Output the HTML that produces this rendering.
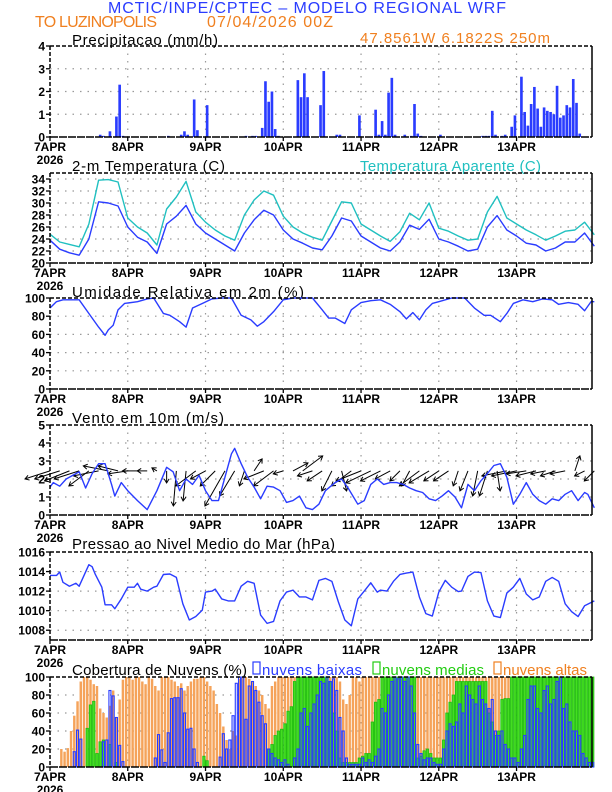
<!DOCTYPE html>
<html><head><meta charset="utf-8">
<style>
html,body{margin:0;padding:0;background:#fff;}
svg{display:block;font-family:"Liberation Sans",sans-serif;}
.tl{font-size:12px;fill:#000;font-weight:bold;}
.pt{font-size:15px;fill:#000;}
</style></head>
<body>
<svg id="chart" width="612" height="792" viewBox="0 0 612 792" xmlns="http://www.w3.org/2000/svg">
<rect x="0" y="0" width="612" height="792" fill="#fff"/>
<text x="108" y="13" font-size="16" fill="#2a3cff" textLength="398">MCTIC/INPE/CPTEC – MODELO REGIONAL WRF</text>
<text x="35" y="27" font-size="16" fill="#f08020" textLength="122">TO LUZINOPOLIS</text>
<text x="207" y="27" font-size="16" fill="#f08020" textLength="126">07/04/2026 00Z</text>
<text x="72" y="45" class="pt" textLength="146">Precipitacao (mm/h)</text>
<text x="360" y="43" font-size="15" fill="#f08020" textLength="190">47.8561W 6.1822S 250m</text>
<text x="72" y="171" class="pt" textLength="153">2-m Temperatura (C)</text>
<text x="360" y="171" font-size="15" fill="#20c0c0" textLength="181">Temperatura Aparente (C)</text>
<text x="72" y="297" class="pt" textLength="232">Umidade Relativa em 2m (%)</text>
<text x="72" y="423" class="pt" textLength="152">Vento em 10m (m/s)</text>
<text x="72" y="549" class="pt" textLength="263">Pressao ao Nivel Medio do Mar (hPa)</text>
<text x="72" y="675" class="pt" textLength="175">Cobertura de Nuvens (%)</text>
<rect x="253" y="662" width="7" height="12" fill="none" stroke="#2a3cff" stroke-width="1.2"/>
<text x="262" y="675" font-size="15" fill="#2a3cff" textLength="100">nuvens baixas</text>
<rect x="373" y="662" width="7" height="12" fill="none" stroke="#22cc11" stroke-width="1.2"/>
<text x="382" y="675" font-size="15" fill="#22cc11" textLength="102">nuvens medias</text>
<rect x="494" y="662" width="7" height="12" fill="none" stroke="#f08020" stroke-width="1.2"/>
<text x="503" y="675" font-size="15" fill="#f08020" textLength="84">nuvens altas</text>
</svg>
<script>
// ---------- data ----------
const dayLabels = ["7APR","8APR","9APR","10APR","11APR","12APR","13APR"];
const yearLabel = "2026";
const precipTicks = [0,1,2,3,4];
const tempTicks = [20,22,24,26,28,30,32,34];
const rhTicks = [0,20,40,60,80,100];
const windTicks = [0,1,2,3,4,5];
const presTicks = [1008,1010,1012,1014,1016];
const cloudTicks = [0,20,40,60,80,100];

const precipHours = [15,16,18,20,21,22,36,40,41,42,44,45,48,60,62,63,65,66,67,68,69,70,76,77,78,79,83,84,88,89,95,100,101,102,103,104,105,106,109,111,112,113,114,120,133,134,135,136,137,139,140,142,143,145,146,147,148,149,150,151,152,153,154,155,156,157,158,159,160,161,162,163];
const precipValues = [0.1,0.05,0.25,0.9,2.3,0.05,0.05,0.1,0.25,0.1,1.65,0.3,1.4,0.05,0.05,0.05,0.4,2.45,1.55,2.0,0.35,0.05,2.5,1.75,2.8,1.75,1.4,2.9,0.1,0.1,0.95,1.2,0.1,0.7,0.1,1.95,2.6,0.1,0.1,0.05,1.45,0.15,0.05,0.1,0.05,0.05,0.05,1.15,0.1,0.05,0.1,0.45,0.95,2.65,1.1,0.5,1.45,2.2,1.25,0.45,1.3,1.15,1.1,1.0,2.25,0.85,0.95,1.4,1.3,2.55,1.5,0.15];

const tempStep = 3;
const tempValues = [23.8,22.3,21.7,21.3,24.0,30.2,30.0,29.5,26.0,24.3,23.5,21.6,26.5,27.8,29.6,26.5,25.0,24.0,23.0,22.0,25.0,27.2,28.8,28.0,25.5,24.0,23.3,22.5,22.2,24.5,27.5,27.0,24.5,23.5,22.5,22.0,23.5,26.3,25.6,27.3,24.0,23.5,22.8,22.0,22.3,26.0,27.9,25.5,24.5,23.3,23.0,22.0,22.5,23.5,23.5,25.0,22.8];
const apparentValues = [24.8,23.5,23.1,22.7,26.5,33.8,33.9,33.5,27.5,26.0,25.0,23.0,29.0,31.0,33.6,28.5,26.8,25.5,24.5,23.8,28.0,30.5,32.0,31.3,27.8,26.0,25.0,24.3,23.8,27.0,30.2,30.0,26.5,25.5,24.5,23.6,25.2,28.3,27.2,30.0,25.8,25.3,24.5,23.8,24.0,28.5,31.1,27.5,26.5,25.5,24.7,23.8,24.5,25.3,25.5,26.8,24.7];

const rhHours = [0,2,4,9,12,15,17,18,19.5,21,23,27,30,32,35,37,40,42,44,47,50,53,56,59,62,64,66,69,72,75,81,84,86,88,91,93,96,99,102,105,108,110,112,114,116,118,120,124,128,131,134,136,139,141,143,146,149,152,155,157,160,163,165,167,168];
const rhValues = [89,96,98,98,83,68,59,65,70,87,94,96,99,100,83,81,74,68,89,94,99,100,100,81,76,69,74,85,98,100,100,87,78,78,72,87,95,97,98,93,85,77,84,76,87,94,96,100,100,89,81,81,74,83,94,98,96,99,98,93,95,93,86,96,96];

const windHours = [0,1,3,5,7,9,11,13,15,17,19,20,22,24,27,30,33,36,38,40,42,44,46,48,50,52,54,56,57,59,61,63,65,67,69,71,73,75,77,79,81,83,85,88,90,92,95,97,99,101,103,105,107,109,111,113,115,117,119,121,123,125,127,129,131,133,135,137,139,141,143,145,147,149,151,153,155,157,159,161,163,165,166,168];
const windSpeed = [1.55,1.8,1.6,2.0,2.2,2.4,1.5,2.3,2.85,2.85,1.7,1.05,1.8,1.35,0.8,0.3,1.35,2.65,2.4,1.35,2.0,1.7,2.2,1.35,0.8,0.8,2.1,3.4,3.7,2.85,2.1,1.55,0.9,1.6,1.55,1.35,0.7,0.8,1.05,0.4,0.3,0.6,1.35,1.8,2.0,1.5,0.6,0.8,1.7,2.0,1.7,1.8,1.8,1.7,1.5,1.35,1.25,0.9,0.8,1.05,1.35,1.0,0.4,1.7,1.35,1.9,2.3,2.75,2.85,2.1,0.6,1.15,1.8,1.15,0.8,0.6,0.9,0.8,1.15,1.35,0.8,1.25,1.15,0.4];
const vecStep = 3;
const windU = [-2.5,-2.5,-2.5,-2.5,-2,-2.5,-2.5,-2,-2,-1.5,-1,-0.5,0,-0.3,-0.3,-2,-1.5,-1.5,-2,-1.5,-0.5,0.8,-2,-2,-1,1.5,2,-1.5,-1.5,-1,0.5,-2,-2.5,-2.5,-2,-1.5,-1,-0.8,-2,-2,-1.5,-1.5,-0.5,-0.8,-0.5,-0.8,0.3,-2.5,-2.5,-2,-2,-1.5,-1.5,-1.5,0.5,-1,-1];
const windV = [-0.8,-0.8,-1,-0.8,-1.5,-0.5,0.5,0.5,-0.3,0,0,0.3,-1.2,-3.5,-3,-1.5,-0.8,-1.5,-3.5,-2.5,-1.5,1.2,-0.8,-1.5,-0.3,0.8,1.5,-0.5,-1,-2,-2,-1.5,-1,-1.2,-1,-0.8,-1,-1.5,-1.5,-1.2,-1,-1,-1.5,-2,-2.5,-2.5,-2,-0.5,-0.5,-0.3,-0.5,-0.3,-0.5,-0.3,1.5,-0.5,-1];

const presHours = [0,2,3,4,6,8,9,12,13,14,16,17,19,20,22,24,26,27,28,30,32,33,35,37,39,41,43,45,47,48,50,51,53,55,57,59,61,63,65,67,69,71,73,75,77,79,81,83,85,87,89,91,93,95,97,99,101,102,104,106,108,110,112,114,116,118,120,122,124,126,127,129,131,133,135,137,139,141,143,145,147,149,151,153,155,157,159,161,163,165,168];
const presValues = [1013.6,1013.6,1013.95,1012.9,1012.5,1012.8,1012.5,1014.7,1014.5,1013.7,1012.4,1010.6,1010.6,1010.2,1011.2,1012.4,1012.4,1012.8,1012.2,1012.0,1012.4,1012.5,1013.7,1013.75,1013.4,1010.7,1009.05,1009.4,1010.05,1011.9,1012.0,1012.2,1011.2,1011.0,1011.0,1012.5,1013.0,1012.8,1009.55,1008.7,1008.9,1011.0,1011.9,1012.1,1011.4,1011.4,1011.1,1013.1,1013.3,1013.0,1010.9,1009.05,1008.45,1011.2,1012.0,1012.85,1011.9,1012.1,1012.0,1013.0,1013.7,1013.85,1013.95,1011.4,1009.7,1009.45,1011.9,1013.1,1012.4,1011.95,1012.0,1013.5,1013.95,1013.9,1011.0,1009.45,1009.3,1011.8,1012.4,1013.3,1011.7,1011.1,1011.4,1013.0,1013.4,1013.0,1010.7,1009.9,1009.4,1010.5,1011.0];

const cloudHigh = [0,0,0,20,17,21,40,57,73,95,
100,100,97,92,90,65,60,55,68,85,
55,75,97,100,100,97,100,100,95,92,
100,98,90,85,100,100,100,97,95,90,
93,85,90,95,98,98,100,100,95,90,
85,70,60,45,30,20,40,35,98,100,
100,98,95,90,85,80,70,65,90,95,
100,100,100,100,100,100,100,100,100,100,
100,100,100,100,100,100,100,100,100,95,
75,70,80,100,100,95,100,100,100,100,
100,100,100,100,100,100,100,100,100,100,
100,100,100,100,100,100,100,100,100,100,
100,100,100,100,100,100,100,100,100,100,
100,100,100,100,100,100,100,100,100,100,
100,100,100,100,100,100,100,100,100,100,
100,100,100,100,100,100,100,100,0,0,
0,0,0,0,0,0,0,0];
const cloudMedium = [0,0,0,0,0,0,0,0,0,0,
0,43,69,73,15,28,30,0,25,0,
5,0,0,0,0,0,0,0,0,0,
0,0,0,0,0,0,0,0,0,0,
0,0,0,0,0,0,0,12,7,0,
0,0,0,0,0,0,0,0,0,0,
0,0,0,0,0,0,0,20,25,35,
40,42,48,62,67,95,100,100,100,100,
100,100,100,100,100,100,95,60,40,10,
5,5,5,5,5,10,12,15,15,50,
72,75,100,100,100,100,100,100,100,100,
100,100,100,10,12,18,20,15,10,10,
10,30,60,72,80,95,95,95,95,95,
95,95,95,95,95,60,50,35,40,75,
76,76,100,100,100,100,100,100,100,100,
100,100,100,100,100,100,100,100,100,100,
100,100,100,100,100,100,100,100];
const cloudLow = [0,0,0,0,0,0,0,17,41,31,
0,0,0,0,0,0,28,30,85,79,
55,24,6,0,0,0,0,0,0,0,
0,0,10,36,19,5,38,76,77,77,
87,60,42,43,20,5,0,0,0,0,
0,0,11,37,20,30,57,93,100,100,
53,90,95,85,72,57,48,20,15,10,
8,5,8,3,0,10,20,60,65,45,
60,70,80,95,93,100,95,98,85,55,
40,10,3,3,3,3,10,5,8,5,
12,20,65,60,80,95,100,98,100,95,
100,90,60,25,15,8,10,10,5,3,
3,20,40,48,45,50,70,60,90,80,
75,70,90,75,70,65,75,40,35,40,
25,20,10,10,5,20,35,75,90,90,
65,60,85,90,70,75,95,100,65,70,
50,40,40,35,15,10,5,5];

// ---------- drawing ----------
const NS = "http://www.w3.org/2000/svg";
const svg = document.getElementById("chart");
const X0 = 50, X1 = 592, HW = 3.24;
function xs(h){ return X0 + h*HW; }
function mk(tag, attrs, parent){
  const e = document.createElementNS(NS, tag);
  for (const k in attrs) e.setAttribute(k, attrs[k]);
  (parent||svg).appendChild(e);
  return e;
}
function scaleY(top, bottom, vmin, vmax){
  return v => bottom - (v - vmin) * (bottom - top) / (vmax - vmin);
}

function panel(name, top, bottom, vmin, vmax, ticks){
  const g = mk("g", {});
  
  
  const ys = scaleY(top, bottom, vmin, vmax);
  ticks.forEach(t => {
    const y = ys(t);
    if (y > top + 1 && y < bottom - 1) {
      const gl = mk("line", {x1:X0, x2:X1, y1:y, y2:y, stroke:"#999", "stroke-width":1.2, "stroke-dasharray":"1.5 6"}, g);
      
      
    }
    const tk = mk("line", {x1:X0-4, x2:X0, y1:y, y2:y, stroke:"#000", "stroke-width":1.3}, g);
    
    
    const lb = mk("text", {x:X0-5, y:y+4.5, "text-anchor":"end", class:"tl"}, g);
    lb.textContent = String(t);
    
    
  });
  for (let d = 1; d < dayLabels.length; d++) {
    const x = xs(d*24);
    const vl = mk("line", {x1:x, x2:x, y1:top, y2:bottom, stroke:"#999", "stroke-width":1.2, "stroke-dasharray":"1.5 6"}, g);
    
    
  }
  dayLabels.forEach((lab, d) => {
    const x = xs(d*24);
    const tk = mk("line", {x1:x, x2:x, y1:bottom, y2:bottom+4, stroke:"#000", "stroke-width":1.3}, g);
    
    
    const t = mk("text", {x:x, y:bottom+14, "text-anchor":"middle", class:"tl"}, g);
    t.textContent = lab;
    
    
  });
  const yr = mk("text", {x:X0, y:bottom+27, "text-anchor":"middle", class:"tl"}, g);
  yr.textContent = yearLabel;
  
  
  return {g, ys, top, bottom};
}
function frame(p, name){
  const f = mk("g", {});
  
  
  mk("line", {x1:X0, x2:X1, y1:p.top, y2:p.top, stroke:"#000", "stroke-width":1.5, "stroke-dasharray":"4 2"}, f);
  mk("line", {x1:X0, x2:X0, y1:p.top, y2:p.bottom, stroke:"#000", "stroke-width":1.5, "stroke-dasharray":"4 2"}, f);
  mk("line", {x1:X0, x2:X1, y1:p.bottom, y2:p.bottom, stroke:"#000", "stroke-width":1.5, "stroke-dasharray":"8 1"}, f);
  mk("line", {x1:X1, x2:X1, y1:p.top, y2:p.bottom, stroke:"#000", "stroke-width":1.5}, f);
}
function linePath(hours, vals, ys, color, name, parent){
  let d = "";
  vals.forEach((v, i) => { d += (i ? "L" : "M") + xs(hours[i]).toFixed(2) + "," + ys(v).toFixed(2); });
  const p = mk("path", {d:d, fill:"none", stroke:color, "stroke-width":1.4, "stroke-linejoin":"round"}, parent);
  
  
  return p;
}
function stepHours(n, step){ const a = []; for (let i = 0; i < n; i++) a.push(i*step); return a; }

// Precipitation
const pP = panel("precip", 46, 137, 0, 4, precipTicks);
precipValues.forEach((v, i) => {
  const h = precipHours[i];
  const y = pP.ys(v);
  const b = mk("rect", {x:xs(h)+0.3, y:y, width:HW-0.6, height:pP.bottom - y, fill:"#2a3cff"}, pP.g);
  
  
});
frame(pP, "precip");

// Temperature
const pT = panel("temp", 173, 263, 20, 35, tempTicks);
const tH = stepHours(tempValues.length, tempStep);
linePath(tH, apparentValues, pT.ys, "#20c0c0", "apparent-temp-line", pT.g);
linePath(tH, tempValues, pT.ys, "#2a3cff", "temp-line", pT.g);
frame(pT, "temp");

// RH
const pR = panel("rh", 298, 389, 0, 100, rhTicks);
linePath(rhHours, rhValues, pR.ys, "#2a3cff", "rh-line", pR.g);
frame(pR, "rh");

// Wind
const pW = panel("wind", 425, 515, 0, 5, windTicks);
const baseY = pW.ys(2.45);
windU.forEach((u, i) => {
  const h = i*vecStep;
  const x = xs(h), v = windV[i];
  const x2 = x + u*10, y2 = baseY - v*10;
  const L = Math.hypot(x2-x, y2-baseY) || 1;
  const ux = (x2-x)/L, uy = (y2-baseY)/L;
  const ag = mk("g", {}, pW.g);
  
  
  mk("line", {x1:x, y1:baseY, x2:x2, y2:y2, stroke:"#000", "stroke-width":1}, ag);
  const hx1 = x2 - ux*4 - uy*2.5, hy1 = y2 - uy*4 + ux*2.5;
  const hx2 = x2 - ux*4 + uy*2.5, hy2 = y2 - uy*4 - ux*2.5;
  mk("path", {d:`M${hx1},${hy1}L${x2},${y2}L${hx2},${hy2}`, fill:"none", stroke:"#000", "stroke-width":1}, ag);
});
linePath(windHours, windSpeed, pW.ys, "#2a3cff", "wind-speed-line", pW.g);
frame(pW, "wind");

// Pressure
const pS = panel("pressure", 552, 640, 1007, 1016, presTicks);
linePath(presHours, presValues, pS.ys, "#2a3cff", "pressure-line", pS.g);
frame(pS, "pressure");

// Clouds
const pC = panel("cloud", 677, 767, 0, 100, cloudTicks);
cloudHigh.forEach((v, h) => {
  if (v <= 0) return;
  const y = pC.ys(v);
  const b = mk("rect", {x:xs(h)+0.4, y:y, width:HW-0.8, height:pC.bottom-y, fill:"#f5a35a"}, pC.g);
  
  
});
cloudMedium.forEach((v, h) => {
  if (v <= 0) return;
  const y = pC.ys(v);
  const b = mk("rect", {x:xs(h)+0.4, y:y, width:HW-0.8, height:pC.bottom-y, fill:"#44dd22", stroke:"#22bb11", "stroke-width":0.8}, pC.g);
  
  
});
cloudLow.forEach((v, h) => {
  if (v <= 0) return;
  const y = pC.ys(v);
  const b = mk("rect", {x:xs(h)+0.6, y:y, width:HW-1.2, height:pC.bottom-y, fill:"none", stroke:"#2a3cff", "stroke-width":1.1}, pC.g);
  
  
});
frame(pC, "cloud");
</script>
</body></html>
